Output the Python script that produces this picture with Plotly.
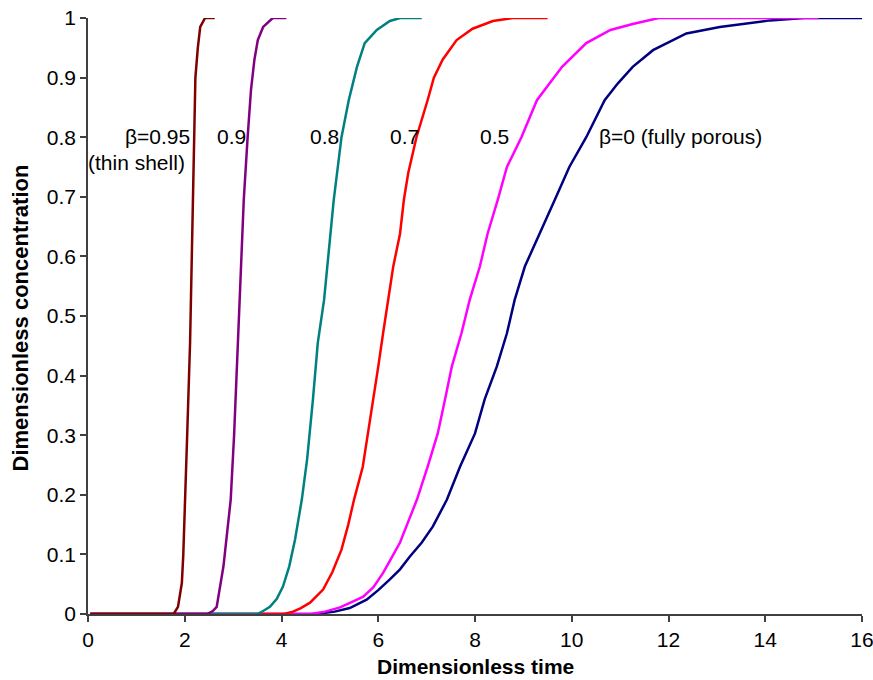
import plotly.graph_objects as go

# beta = 0.95 (thin shell)
x_b095 = [0.05, 1.77, 1.86, 1.94, 1.97, 2.0, 2.05, 2.11, 2.14, 2.17, 2.19, 2.2, 2.22, 2.27, 2.32, 2.42, 2.62]
y_b095 = [0, 0, 0.012, 0.052, 0.1, 0.192, 0.3, 0.455, 0.58, 0.695, 0.8, 0.86, 0.9, 0.95, 0.985, 1.0, 1.0]

# beta = 0.9
x_b090 = [0.05, 2.46, 2.58, 2.66, 2.8, 2.95, 3.02, 3.1, 3.16, 3.22, 3.3, 3.37, 3.44, 3.51, 3.62, 3.82, 4.1]
y_b090 = [0, 0, 0.005, 0.012, 0.08, 0.192, 0.3, 0.455, 0.58, 0.695, 0.8, 0.88, 0.93, 0.963, 0.985, 1.0, 1.0]

# beta = 0.8
x_b080 = [0.05, 3.5, 3.62, 3.76, 3.9, 4.03, 4.16, 4.28, 4.42, 4.53, 4.65, 4.75, 4.88, 4.98, 5.08, 5.24, 5.39, 5.56, 5.72, 5.97, 6.24, 6.45, 6.9]
y_b080 = [0, 0, 0.005, 0.012, 0.025, 0.046, 0.08, 0.125, 0.192, 0.26, 0.36, 0.455, 0.527, 0.61, 0.695, 0.8, 0.862, 0.918, 0.958, 0.98, 0.995, 1.0, 1.0]

# beta = 0.7
x_b070 = [0.05, 4.05, 4.24, 4.4, 4.59, 4.86, 5.05, 5.24, 5.38, 5.5, 5.68, 5.79, 5.89, 6.0, 6.1, 6.2, 6.31, 6.45, 6.53, 6.62, 6.79, 7.02, 7.15, 7.33, 7.62, 7.95, 8.37, 8.78, 9.5]
y_b070 = [0, 0, 0.004, 0.01, 0.019, 0.041, 0.07, 0.108, 0.15, 0.192, 0.247, 0.303, 0.36, 0.415, 0.471, 0.527, 0.583, 0.638, 0.695, 0.74, 0.8, 0.862, 0.9, 0.93, 0.963, 0.982, 0.995, 1.0, 1.0]

# beta = 0.5
x_b050 = [0.05, 4.6, 4.9, 5.21, 5.45, 5.69, 5.9, 6.1, 6.28, 6.45, 6.62, 6.8, 7.02, 7.23, 7.38, 7.52, 7.72, 7.89, 8.1, 8.26, 8.47, 8.66, 8.96, 9.28, 9.8, 10.3, 10.8, 11.26, 11.8, 15.1]
y_b050 = [0, 0, 0.004, 0.011, 0.02, 0.029, 0.045, 0.069, 0.095, 0.12, 0.155, 0.192, 0.247, 0.303, 0.36, 0.415, 0.471, 0.527, 0.583, 0.638, 0.695, 0.75, 0.8, 0.862, 0.918, 0.958, 0.98, 0.99, 1.0, 1.0]

# beta = 0 (fully porous)
x_b000 = [0.05, 4.7, 5.1, 5.41, 5.76, 6.0, 6.24, 6.45, 6.65, 6.9, 7.13, 7.42, 7.69, 8.0, 8.2, 8.45, 8.66, 8.82, 9.03, 9.34, 9.65, 9.95, 10.3, 10.68, 10.95, 11.26, 11.68, 12.37, 13.06, 14.1, 14.8, 16.0]
y_b000 = [0, 0, 0.004, 0.01, 0.024, 0.04, 0.058, 0.075, 0.096, 0.12, 0.147, 0.192, 0.247, 0.303, 0.36, 0.415, 0.471, 0.527, 0.583, 0.638, 0.695, 0.75, 0.8, 0.862, 0.89, 0.918, 0.946, 0.974, 0.985, 0.996, 1.0, 1.0]

x_ticks = [0, 2, 4, 6, 8, 10, 12, 14, 16]
y_ticks = [0, 0.1, 0.2, 0.3, 0.4, 0.5, 0.6, 0.7, 0.8, 0.9, 1]
y_ticklabels = ["0", "0.1", "0.2", "0.3", "0.4", "0.5", "0.6", "0.7", "0.8", "0.9", "1"]

series = [
    ("β=0", x_b000, y_b000, "#000080"),
    ("0.5", x_b050, y_b050, "#FF00FF"),
    ("0.7", x_b070, y_b070, "#FF0000"),
    ("0.8", x_b080, y_b080, "#008080"),
    ("0.9", x_b090, y_b090, "#800080"),
    ("β=0.95", x_b095, y_b095, "#800000"),
]

FONT = "Liberation Sans, Arial, sans-serif"

fig = go.Figure()
for name, xs, ys, col in series:
    fig.add_trace(go.Scatter(x=xs, y=ys, mode="lines", name=name,
                             line=dict(color=col, width=2.5), showlegend=False))

labels = [
    ("β=0.95", 2.15, 0.802, "right"),
    ("(thin shell)", 2.05, 0.758, "right"),
    ("0.9", 2.62, 0.802, "left"),
    ("0.8", 4.55, 0.802, "left"),
    ("0.7", 6.2, 0.802, "left"),
    ("0.5", 8.06, 0.802, "left"),
    ("β=0 (fully porous)", 10.52, 0.802, "left"),
]
for txt, lx, ly, anc in labels:
    fig.add_annotation(x=lx, y=ly, xref="x", yref="y", text=txt, showarrow=False,
                       xanchor=anc, yanchor="middle",
                       font=dict(family=FONT, size=21, color="black"))

fig.add_annotation(x=0.5, y=-0.088, xref="paper", yref="paper",
                   text="<b>Dimensionless time</b>", showarrow=False,
                   xanchor="center", yanchor="middle",
                   font=dict(family=FONT, size=21, color="black"))
fig.add_annotation(x=-0.087, y=0.497, xref="paper", yref="paper",
                   text="<b>Dimensionless concentration</b>", showarrow=False,
                   textangle=-90, xanchor="center", yanchor="middle",
                   font=dict(family=FONT, size=22, color="black"))

axis_common = dict(showgrid=False, zeroline=False, showline=True, linecolor="#404040",
                   linewidth=1.5, ticks="outside", ticklen=6, tickwidth=1.5,
                   tickcolor="#404040", ticklabeloverflow="allow", automargin=False,
                   tickfont=dict(family=FONT, size=21, color="black"))

fig.update_xaxes(range=[0, 16], tickvals=x_ticks, ticktext=[str(v) for v in x_ticks], **axis_common)
fig.update_yaxes(range=[0, 1], tickvals=y_ticks, ticktext=y_ticklabels, **axis_common)

fig.update_layout(width=873, height=680, margin=dict(l=88, r=11, t=18, b=66),
                  plot_bgcolor="white", paper_bgcolor="white")

# remove the browser's default 8px body margin so the figure fills the window
fig.write_html("out.html", config={"displayModeBar": False},
               post_script="document.body.style.margin='0';")
